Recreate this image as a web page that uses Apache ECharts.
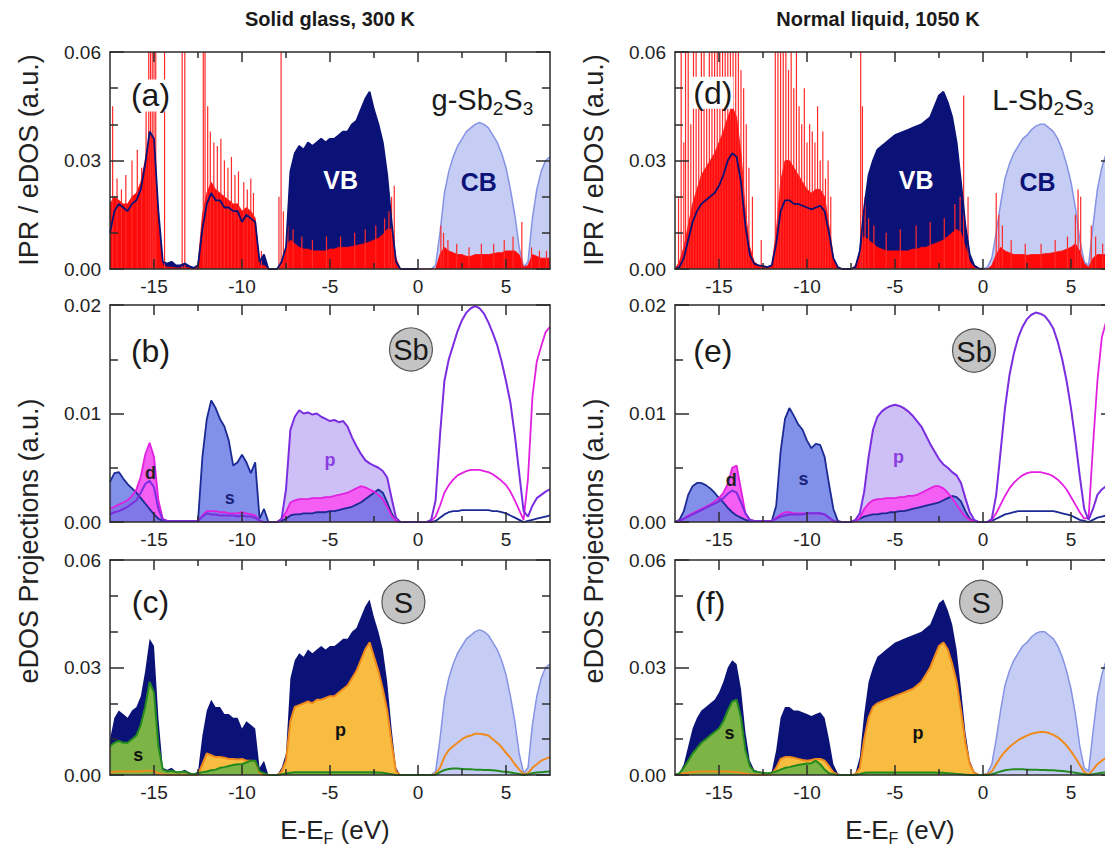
<!DOCTYPE html>
<html><head><meta charset="utf-8">
<script src="https://cdn.jsdelivr.net/npm/echarts@6/dist/echarts.min.js"></script>
<style>html,body{margin:0;padding:0;background:#fff}#c{width:1105px;height:845px}</style>
</head><body><div id="c"></div>
<script>
// Energy grid: E = -17.5 + 0.25*i  (i = 0..100), eV relative to E_F
const E_START = -17.5, E_STEP = 0.25;
const X_MAJOR = [-15, -10, -5, 0, 5];
const X_MINOR = [-12.5, -7.5, -2.5, 2.5];

// ---------- Solid glass, 300 K ----------
const glassTotal = [0.010,0.016,0.018,0.017,0.016,0.018,0.019,0.022,0.029,0.038,
0.036,0.016,0.002,0.0015,0.002,0.001,0.001,0.0015,0.0008,0.0003,
0.001,0.011,0.018,0.021,0.019,0.019,0.017,0.017,0.016,0.016,
0.013,0.015,0.014,0.013,0.002,0.004,0,0,0,0.002,
0.006,0.027,0.032,0.034,0.033,0.035,0.034,0.035,0.036,0.035,
0.036,0.036,0.037,0.038,0.038,0.040,0.041,0.044,0.047,0.049,
0.044,0.040,0.035,0.026,0.013,0.002,0,0,0,0,
0,0,0,0,0.001,0.010,0.021,0.027,0.031,0.034,
0.036,0.038,0.039,0.040,0.0405,0.040,0.039,0.037,0.035,0.032,
0.028,0.022,0.015,0.006,0.0005,0.002,0.014,0.022,0.027,0.030,0.031];
const glassIPR = [0.018,0.020,0.019,0.018,0.018,0.020,0.021,0.024,0.030,0.037,
0.036,0.014,0.001,0.0005,0.0005,0.0003,0.0003,0.0005,0.0003,0,
0.001,0.015,0.021,0.024,0.022,0.021,0.020,0.019,0.018,0.018,
0.016,0.017,0.016,0.014,0.001,0.001,0,0,0,0.002,
0.006,0.008,0.007,0.006,0.0055,0.0055,0.005,0.005,0.005,0.005,
0.0055,0.0055,0.006,0.006,0.006,0.0062,0.0065,0.0068,0.007,0.0075,
0.008,0.0085,0.0095,0.011,0.011,0.003,0,0,0,0,
0,0,0,0,0,0.004,0.006,0.005,0.0045,0.004,
0.004,0.0035,0.0035,0.004,0.004,0.004,0.004,0.0042,0.0045,0.0045,
0.005,0.005,0.005,0.004,0.0005,0.001,0.004,0.0035,0.003,0.003,0.003];
const glassSpikes = [[-17.35,0.045],[-17.1,0.025],[-16.85,0.022],[-16.6,0.026],[-16.25,0.03],[-15.95,0.033],[-15.7,0.028],[-15.45,0.045],[-15.3,0.06],[-15.2,0.06],[-15.1,0.06],[-15.0,0.06],[-14.9,0.06],[-14.4,0.06],[-13.4,0.06],[-13.25,0.06],[-12.2,0.06],[-12.1,0.06],[-11.95,0.045],[-11.8,0.038],[-11.6,0.035],[-11.4,0.034],[-11.2,0.036],[-11.0,0.03],[-10.8,0.028],[-10.6,0.031],[-10.4,0.026],[-10.2,0.027],[-9.9,0.024],[-9.7,0.022],[-9.5,0.025],[-9.35,0.021],[-8.9,0.005],[-7.9,0.02],[-7.78,0.06],[-7.65,0.016],[-7.4,0.012],[-7.1,0.011],[-6.6,0.009],[-6.0,0.008],[-5.2,0.009],[-4.4,0.009],[-3.6,0.01],[-3.0,0.011],[-2.4,0.012],[-1.9,0.014],[-1.65,0.016],[-1.5,0.02],[-1.35,0.023],[1.3,0.012],[1.45,0.01],[1.7,0.008],[2.2,0.007],[2.9,0.006],[3.6,0.007],[4.3,0.007],[4.9,0.008],[5.4,0.009],[5.9,0.013],[6.45,0.006],[6.9,0.005],[7.3,0.005]];
const glassSbS = [0.0037,0.0045,0.0046,0.0040,0.0035,0.0031,0.0027,0.0022,0.0017,0.0012,
0.0007,0.0003,0.0001,0.0001,0.0001,0.0001,0.0001,0.0001,0.0001,0.0001,
0.0001,0.006,0.0095,0.0112,0.0105,0.0095,0.0088,0.0075,0.0052,0.0055,
0.0062,0.0055,0.0045,0.0055,0.0003,0.0012,0,0,0,0.0001,
0.0003,0.0006,0.0007,0.0007,0.0008,0.0008,0.0008,0.0009,0.0009,0.0009,
0.001,0.001,0.0011,0.0012,0.0013,0.0014,0.0016,0.0018,0.0021,0.0024,
0.0027,0.0030,0.0027,0.0018,0.0008,0.0001,0,0,0,0,
0,0,0,0,0.0001,0.0004,0.0007,0.0009,0.001,0.001,
0.0011,0.0011,0.0011,0.0011,0.0011,0.0011,0.0011,0.001,0.001,0.0009,
0.0008,0.0006,0.0004,0.0002,0,0.0001,0.0002,0.0003,0.0004,0.0005,0.0006];
const glassSbP = [0.0007,0.0009,0.001,0.0012,0.0014,0.0017,0.002,0.0027,0.0035,0.0038,
0.0032,0.0012,0.0002,0.0001,0.0001,0.0001,0.0001,0.0001,0.0001,0.0001,
0.0001,0.0005,0.0008,0.0007,0.0007,0.0006,0.0006,0.0006,0.0006,0.0005,
0.0006,0.0005,0.0005,0.0004,0.0001,0,0,0,0,0.0003,
0.003,0.0085,0.0097,0.0103,0.0100,0.0101,0.0099,0.0100,0.0097,0.0095,
0.0093,0.0094,0.0092,0.0093,0.0088,0.0078,0.0070,0.0063,0.0057,0.0054,
0.0052,0.0050,0.0047,0.0041,0.0022,0.0004,0,0,0,0,
0,0,0,0.0002,0.002,0.008,0.013,0.0150,0.0163,0.0176,
0.0186,0.0193,0.0197,0.0199,0.0197,0.0192,0.0184,0.0174,0.0163,0.0148,
0.0130,0.0110,0.0080,0.0045,0.0010,0.0005,0.0015,0.0022,0.0025,0.0028,0.0030];
const glassSbD = [0.0012,0.0014,0.0016,0.0018,0.002,0.0024,0.003,0.0042,0.0062,0.0073,
0.0060,0.0020,0.0003,0.0001,0.0001,0.0001,0.0001,0.0001,0.0001,0.0001,
0.0001,0.0006,0.001,0.001,0.001,0.0009,0.0009,0.0008,0.0008,0.0008,
0.0009,0.0008,0.0007,0.0006,0.0001,0,0,0,0,0.0003,
0.0009,0.0018,0.0020,0.0021,0.0021,0.0021,0.0022,0.0022,0.0022,0.0023,
0.0023,0.0024,0.0025,0.0026,0.0027,0.0029,0.0031,0.0033,0.0032,0.0030,
0.0028,0.0025,0.0021,0.0014,0.0006,0.0001,0,0,0,0,
0,0,0,0.0001,0.0005,0.0015,0.0027,0.0034,0.0039,0.0043,
0.0045,0.0047,0.0048,0.0048,0.0048,0.0047,0.0046,0.0044,0.0041,0.0038,
0.0034,0.0028,0.0020,0.0011,0.0002,0.0040,0.0115,0.0148,0.0162,0.0175,0.0180];
const glassSp = [0.0008,0.0009,0.001,0.001,0.001,0.001,0.001,0.001,0.0012,0.0012,
0.001,0.0005,0.0002,0.0001,0.0001,0.0001,0.0001,0.0001,0.0001,0.0001,
0.0001,0.003,0.006,0.0055,0.005,0.005,0.0048,0.0045,0.0045,0.0043,
0.0045,0.004,0.004,0.0038,0.0005,0,0,0,0,0.001,
0.004,0.015,0.019,0.0195,0.020,0.0205,0.020,0.021,0.021,0.0215,
0.022,0.022,0.023,0.024,0.025,0.027,0.029,0.032,0.035,0.037,
0.033,0.029,0.024,0.018,0.009,0.001,0,0,0,0,
0,0,0,0,0.0003,0.002,0.005,0.007,0.008,0.009,
0.010,0.0107,0.011,0.0115,0.0115,0.0113,0.011,0.010,0.009,0.0078,
0.0062,0.0048,0.003,0.0015,0.0002,0.0005,0.002,0.003,0.004,0.0045,0.005];
const glassSs = [0.008,0.009,0.0095,0.009,0.009,0.010,0.011,0.014,0.019,0.026,
0.023,0.008,0.0015,0.001,0.0012,0.0008,0.0008,0.001,0.0004,0.0002,
0.0005,0.0008,0.001,0.0013,0.0015,0.002,0.0022,0.0025,0.0028,0.003,
0.003,0.0035,0.004,0.004,0.001,0.0005,0,0,0,0.0002,
0.0004,0.0006,0.0008,0.0008,0.0008,0.0008,0.0008,0.0008,0.0008,0.0008,
0.0008,0.0008,0.0008,0.0008,0.0008,0.0008,0.0008,0.0008,0.0008,0.0008,
0.0008,0.0007,0.0006,0.0004,0.0002,0,0,0,0,0,
0,0,0,0,0.0001,0.0008,0.0014,0.0017,0.0018,0.0018,
0.0017,0.0016,0.0016,0.0015,0.0015,0.0014,0.0014,0.0013,0.0012,0.001,
0.0009,0.0007,0.0005,0.0003,0,0.0002,0.0005,0.0007,0.0008,0.0009,0.001];

// ---------- Normal liquid, 1050 K ----------
const liquidTotal = [0,0.0005,0.003,0.008,0.013,0.016,0.018,0.019,0.020,0.021,
0.023,0.026,0.030,0.032,0.031,0.024,0.012,0.004,0.0015,0.001,
0.0008,0.0005,0.001,0.007,0.016,0.019,0.019,0.018,0.018,0.0175,
0.017,0.0165,0.017,0.0175,0.016,0.010,0.003,0.0005,0,0,
0,0.0005,0.005,0.017,0.026,0.030,0.033,0.034,0.035,0.036,
0.037,0.0375,0.038,0.0385,0.039,0.0395,0.040,0.041,0.042,0.045,
0.048,0.049,0.046,0.042,0.035,0.024,0.012,0.004,0.001,0.0002,
0,0.0005,0.003,0.010,0.018,0.025,0.029,0.032,0.034,0.036,
0.037,0.0385,0.0395,0.040,0.040,0.039,0.038,0.036,0.033,0.029,
0.024,0.017,0.008,0.002,0.001,0.012,0.022,0.028,0.032,0.034,0.035];
const liquidIPR = [0,0.002,0.006,0.012,0.018,0.022,0.026,0.028,0.030,0.032,
0.035,0.038,0.042,0.045,0.042,0.032,0.016,0.006,0.002,0.001,
0.001,0.0005,0.001,0.010,0.024,0.030,0.030,0.028,0.026,0.024,
0.022,0.021,0.022,0.022,0.020,0.012,0.003,0.0005,0,0,
0,0.001,0.004,0.009,0.008,0.007,0.006,0.0055,0.005,0.005,
0.005,0.005,0.005,0.005,0.0055,0.0055,0.006,0.006,0.0065,0.007,
0.0075,0.008,0.009,0.010,0.011,0.010,0.006,0.002,0.0005,0,
0,0,0.001,0.004,0.006,0.005,0.0045,0.004,0.004,0.004,
0.0038,0.004,0.004,0.004,0.0042,0.0043,0.0045,0.0048,0.005,0.0055,
0.006,0.007,0.005,0.0015,0.0005,0.003,0.004,0.004,0.004,0.004,0.004];
const liquidSpikes = [[-17.3,0.02],[-17.15,0.06],[-17.0,0.035],[-16.9,0.06],[-16.75,0.06],[-16.6,0.04],[-16.45,0.06],[-16.3,0.06],[-16.15,0.05],[-16.0,0.06],[-15.85,0.06],[-15.7,0.045],[-15.55,0.06],[-15.4,0.06],[-15.25,0.06],[-15.1,0.06],[-14.95,0.06],[-14.8,0.06],[-14.65,0.06],[-14.5,0.06],[-14.35,0.06],[-14.2,0.06],[-14.05,0.06],[-13.9,0.06],[-13.75,0.055],[-13.6,0.05],[-13.45,0.04],[-13.3,0.028],[-13.1,0.02],[-12.6,0.008],[-11.8,0.06],[-11.65,0.06],[-11.5,0.06],[-11.35,0.06],[-11.2,0.06],[-11.05,0.055],[-10.9,0.06],[-10.75,0.05],[-10.6,0.06],[-10.45,0.045],[-10.3,0.04],[-10.15,0.05],[-10.0,0.035],[-9.85,0.04],[-9.7,0.038],[-9.55,0.035],[-9.4,0.045],[-9.25,0.03],[-9.1,0.038],[-8.95,0.025],[-8.8,0.03],[-8.65,0.02],[-6.95,0.06],[-6.85,0.045],[-6.7,0.02],[-6.5,0.014],[-6.2,0.012],[-5.5,0.01],[-4.7,0.011],[-3.8,0.012],[-3.0,0.013],[-2.2,0.014],[-1.6,0.018],[-1.3,0.02],[-1.1,0.048],[-0.85,0.02],[0.75,0.021],[0.9,0.015],[1.1,0.012],[1.6,0.008],[2.4,0.007],[3.3,0.007],[4.1,0.008],[4.8,0.009],[5.25,0.015],[5.4,0.022],[5.55,0.02],[6.15,0.012],[6.4,0.009],[6.8,0.007]];
const liquidSbS = [0,0.0002,0.001,0.0025,0.0033,0.0036,0.0036,0.0034,0.0031,0.0027,
0.0022,0.0018,0.0013,0.0009,0.0006,0.0004,0.0002,0.0001,0.0001,0.0001,
0.0001,0.0001,0.0001,0.0015,0.0065,0.0095,0.0105,0.0098,0.0090,0.0085,
0.0075,0.0068,0.0072,0.0071,0.0060,0.0035,0.0012,0.0001,0,0,
0,0.0001,0.0003,0.0005,0.0006,0.0007,0.0007,0.0008,0.0008,0.0009,
0.0009,0.001,0.001,0.0011,0.0012,0.0013,0.0014,0.0015,0.0016,0.0017,
0.0018,0.002,0.0022,0.0024,0.0023,0.0019,0.0010,0.0003,0.0001,0,
0,0,0.0001,0.0003,0.0005,0.0007,0.0008,0.0009,0.001,0.001,
0.001,0.001,0.001,0.001,0.001,0.001,0.001,0.0009,0.0008,0.0007,
0.0006,0.0004,0.0002,0.0001,0,0.0002,0.0004,0.0005,0.0006,0.0006,0.0007];
const liquidSbP = [0,0.0001,0.0003,0.0005,0.0007,0.0009,0.0011,0.0013,0.0015,0.0017,
0.0019,0.0022,0.0026,0.0029,0.0027,0.0018,0.0008,0.0002,0.0001,0.0001,
0.0001,0.0001,0.0001,0.0003,0.0005,0.0006,0.0007,0.0007,0.0007,0.0007,
0.0008,0.0008,0.0008,0.0008,0.0007,0.0004,0.0001,0,0,0,
0,0.0002,0.0008,0.0028,0.0060,0.0085,0.0097,0.0102,0.0105,0.0107,
0.0108,0.0107,0.0105,0.0102,0.0098,0.0093,0.0088,0.0080,0.0072,0.0065,
0.0058,0.0053,0.0050,0.0046,0.0043,0.0036,0.0022,0.0009,0.0002,0,
0,0,0.0003,0.0025,0.0065,0.0105,0.0135,0.0155,0.0170,0.0180,
0.0187,0.0191,0.0193,0.0192,0.0190,0.0185,0.0178,0.0166,0.0150,0.0130,
0.0105,0.0075,0.0042,0.0012,0.0002,0.0012,0.0025,0.0030,0.0033,0.0035,0.0036];
const liquidSbD = [0,0.0001,0.0003,0.0006,0.0008,0.001,0.0012,0.0014,0.0016,0.0019,
0.0022,0.0027,0.0035,0.0050,0.0052,0.0030,0.0008,0.0002,0.0001,0.0001,
0.0001,0.0001,0.0001,0.0004,0.0007,0.0009,0.0009,0.0008,0.0008,0.0008,
0.0008,0.0008,0.0008,0.0008,0.0007,0.0004,0.0001,0,0,0,
0,0.0001,0.0004,0.0012,0.0017,0.0020,0.0021,0.0021,0.0022,0.0022,
0.0022,0.0023,0.0023,0.0024,0.0024,0.0025,0.0027,0.0029,0.0031,0.0033,
0.0033,0.0031,0.0027,0.0022,0.0016,0.0010,0.0005,0.0002,0.0001,0,
0,0,0.0002,0.0008,0.0016,0.0024,0.0031,0.0036,0.0040,0.0043,
0.0045,0.0046,0.0046,0.0046,0.0045,0.0044,0.0042,0.0039,0.0035,0.0030,
0.0023,0.0016,0.0009,0.0003,0.0004,0.0070,0.0130,0.0170,0.0185,0.0190,0.0190];
const liquidSp = [0,0.0002,0.0004,0.0006,0.0008,0.0009,0.001,0.001,0.001,0.001,
0.001,0.001,0.001,0.0009,0.0008,0.0006,0.0004,0.0002,0.0001,0.0001,
0.0001,0.0001,0.0002,0.002,0.0045,0.005,0.005,0.0048,0.0045,0.0042,
0.004,0.0042,0.0045,0.0045,0.004,0.0025,0.0007,0.0001,0,0,
0,0.0002,0.002,0.010,0.016,0.019,0.020,0.0205,0.021,0.0215,
0.022,0.0225,0.023,0.0235,0.024,0.025,0.026,0.028,0.030,0.033,
0.036,0.037,0.035,0.031,0.026,0.018,0.009,0.003,0.0006,0.0001,
0,0.0002,0.001,0.003,0.005,0.0065,0.0078,0.0088,0.0097,0.0104,
0.011,0.0115,0.0118,0.012,0.012,0.0117,0.0112,0.0105,0.0095,0.0082,
0.0066,0.0048,0.0028,0.0008,0.0001,0.0015,0.003,0.004,0.0048,0.0052,0.0055];
const liquidSs = [0,0.0005,0.002,0.004,0.006,0.0075,0.009,0.010,0.011,0.012,
0.013,0.015,0.018,0.0205,0.021,0.016,0.007,0.0025,0.001,0.0008,
0.0006,0.0005,0.0006,0.001,0.0015,0.002,0.0022,0.0025,0.0028,0.003,
0.0032,0.0033,0.004,0.003,0.0015,0.0005,0.0002,0,0,0,
0,0.0001,0.0003,0.0006,0.0007,0.0007,0.0007,0.0007,0.0007,0.0007,
0.0007,0.0007,0.0007,0.0007,0.0007,0.0007,0.0007,0.0007,0.0007,0.0007,
0.0007,0.0006,0.0005,0.0004,0.0003,0.0002,0.0001,0,0,0,
0,0,0.0002,0.0006,0.001,0.0013,0.0015,0.0016,0.0016,0.0016,
0.0015,0.0015,0.0015,0.0014,0.0014,0.0013,0.0013,0.0012,0.0011,0.001,
0.0008,0.0006,0.0004,0.0002,0,0.0002,0.0004,0.0006,0.0007,0.0008,0.0009];

// ---------- styling ----------
const FONT = '"Liberation Sans", Arial, Helvetica, sans-serif';
const AX = '#2b2b2b';
const NAVY = '#0b1277', CB_FILL = '#c6cdf5', CB_LINE = '#8593e4', RED = '#ff0a0a', SPIKE = '#ff2a2a';
const SBS_FILL = '#6b7de4', SBS_LINE = '#1b2a94', SBP_FILL = '#cebff7', SBP_LINE = '#7a2ee0', SBD_FILL = '#f55ef2', SBD_LINE = '#e31fe0';
const SP_FILL = '#f8bc40', SP_LINE = '#f08a1c', SS_FILL = '#7cb545', SS_LINE = '#24891f';

const colLeft = [110, 675], rowTop = [52, 305, 560], rowH = [217, 217, 215];

function energy(i) { return E_START + E_STEP * i; }
function pts(arr, lo, hi) {
  lo = lo === undefined ? -99 : lo; hi = hi === undefined ? 99 : hi;
  const out = [];
  arr.forEach((v, i) => { const e = energy(i); if (e >= lo - 1e-9 && e <= hi + 1e-9) out.push([e, v]); });
  return out;
}
function xi(g) { return 4 * g; }
function yi(g) { return 2 * g; }
let zc = 2;
function fill(g, data, color, opacity) {
  return { type: 'line', xAxisIndex: xi(g), yAxisIndex: yi(g), data, symbol: 'none', showSymbol: false,
    lineStyle: { width: 0, color }, areaStyle: { color, opacity: opacity === undefined ? 1 : opacity },
    silent: true, animation: false, z: zc++ };
}
function line(g, data, color, width) {
  return { type: 'line', xAxisIndex: xi(g), yAxisIndex: yi(g), data, symbol: 'none', showSymbol: false,
    lineStyle: { width, color }, silent: true, animation: false, z: zc++ };
}
function bars(g, data, color) {
  return { type: 'bar', xAxisIndex: xi(g), yAxisIndex: yi(g), data, barWidth: 1.2,
    itemStyle: { color }, silent: true, animation: false, z: zc++ };
}
function panelIPR(g, total, ipr, spikes) {
  return [
    fill(g, pts(total, -17.5, 0), NAVY),
    fill(g, pts(total, 0, 7.5), CB_FILL),
    line(g, pts(total, 0, 7.5), CB_LINE, 1.5),
    Object.assign(fill(g, pts(ipr), RED), { lineStyle: { width: 0.8, color: RED } }),
    bars(g, spikes, SPIKE),
    line(g, pts(total, -17.5, 0), NAVY, 1.8)
  ];
}
function panelSb(g, s, p, d) {
  return [
    fill(g, pts(p, -17.5, 0), SBP_FILL),
    fill(g, pts(d, -17.5, 0), SBD_FILL),
    fill(g, pts(s, -17.5, 0), SBS_FILL, 0.85),
    line(g, pts(s), SBS_LINE, 1.8),
    line(g, pts(d), SBD_LINE, 1.8),
    line(g, pts(p), SBP_LINE, 2)
  ];
}
function panelS(g, total, sp, ss) {
  return [
    fill(g, pts(total, -17.5, 0), NAVY),
    fill(g, pts(total, 0, 7.5), CB_FILL),
    line(g, pts(total, 0, 7.5), CB_LINE, 1.5),
    fill(g, pts(sp, -17.5, 0), SP_FILL),
    fill(g, pts(ss, -17.5, 0), SS_FILL),
    line(g, pts(sp), SP_LINE, 2),
    line(g, pts(ss), SS_LINE, 2)
  ];
}

const grids = [], xAxes = [], yAxes = [];
for (let g = 0; g < 6; g++) {
  const col = g < 3 ? 0 : 1, row = g % 3;
  grids.push({ left: colLeft[col], top: rowTop[row], width: 440, height: rowH[row], containLabel: false, outerBoundsMode: 'none' });
  const tickStyle = { color: AX, width: 1.5 };
  const mkX = (pos, major, labels, showLine) => ({
    type: 'value', gridIndex: g, position: pos, min: -17.5, max: 7.5, z: 50,
    axisLine: { show: showLine, onZero: false, lineStyle: { color: AX, width: 1.5 } },
    axisTick: { show: true, inside: true, length: major ? 10 : 6, customValues: major ? X_MAJOR : X_MINOR, lineStyle: tickStyle },
    axisLabel: { show: labels, customValues: X_MAJOR, fontSize: 19, color: '#222', fontFamily: FONT, margin: 8 },
    splitLine: { show: false }, minorTick: { show: false }
  });
  xAxes.push(mkX('bottom', true, true, true), mkX('bottom', false, false, false), mkX('top', true, false, true), mkX('top', false, false, false));
  const small = row === 1;
  const mkY = (pos, labels) => ({
    type: 'value', gridIndex: g, position: pos, min: 0, max: small ? 0.02 : 0.06, interval: small ? 0.01 : 0.03, z: 50,
    axisLine: { show: true, onZero: false, lineStyle: { color: AX, width: 1.5 } },
    axisTick: { show: true, inside: true, length: 14, lineStyle: tickStyle },
    minorTick: { show: true, splitNumber: small ? 2 : 3, length: 8, lineStyle: tickStyle },
    axisLabel: { show: labels, formatter: v => v.toFixed(2), fontSize: 19, color: '#222', fontFamily: FONT, margin: 9 },
    splitLine: { show: false }, minorSplitLine: { show: false }
  });
  yAxes.push(mkY('left', true), mkY('right', false));
}

const series = [].concat(
  panelIPR(0, glassTotal, glassIPR, glassSpikes),
  panelSb(1, glassSbS, glassSbP, glassSbD),
  panelS(2, glassTotal, glassSp, glassSs),
  panelIPR(3, liquidTotal, liquidIPR, liquidSpikes),
  panelSb(4, liquidSbS, liquidSbP, liquidSbD),
  panelS(5, liquidTotal, liquidSp, liquidSs)
);

const chart = echarts.init(document.getElementById('c'), null, { renderer: 'svg', width: 1105, height: 845 });
chart.setOption({ backgroundColor: '#fff', animation: false, grid: grids, xAxis: xAxes, yAxis: yAxes, series });

function P(g, x, y) { return chart.convertToPixel({ xAxisIndex: xi(g), yAxisIndex: yi(g) }, [x, y]); }
const gr = [];
function txt(x, y, text, font, fill, extra) {
  gr.push(Object.assign({ type: 'text', x, y, z: 100, style: Object.assign({ text, font, fill, align: 'center', verticalAlign: 'middle' }, extra || {}) }));
}
// titles
txt(330, 19, 'Solid glass, 300 K', 'bold 20px ' + FONT, '#1a1a1a');
txt(878, 19, 'Normal liquid, 1050 K', 'bold 20px ' + FONT, '#1a1a1a');
// y-axis titles
[29, 594].forEach(x => {
  gr.push({ type: 'text', x, y: 160, rotation: Math.PI / 2, z: 100, style: { text: 'IPR / eDOS (a.u.)', font: '27px ' + FONT, fill: '#222', align: 'center', verticalAlign: 'middle' } });
  gr.push({ type: 'text', x, y: 541, rotation: Math.PI / 2, z: 100, style: { text: 'eDOS Projections (a.u.)', font: '27px ' + FONT, fill: '#222', align: 'center', verticalAlign: 'middle' } });
});
// x-axis titles
[335, 900].forEach(x => {
  gr.push({ type: 'text', x, y: 830, z: 100, style: { text: 'E-E{s|F} (eV)', font: '26px ' + FONT, fill: '#222', align: 'center', verticalAlign: 'middle', lineHeight: 32,
    rich: { s: { fontSize: 16, fontFamily: FONT, lineHeight: 15, verticalAlign: 'bottom', fill: '#222' } } } });
});
// panel letters
const panelLetters = [[0,'(a)',-15.2,0.048],[1,'(b)',-15.2,0.0158],[2,'(c)',-15.2,0.0483],[3,'(d)',-15.35,0.0487],[4,'(e)',-15.35,0.0158],[5,'(f)',-15.5,0.048]];
panelLetters.forEach(([g, t, x, y]) => { const p = P(g, x, y); txt(p[0], p[1], t, '32px ' + FONT, '#1a1a1a', { backgroundColor: '#fff', padding: [0, 1] }); });
// formula labels
[[0, 'g-Sb{s|2}S{s|3}', 6.55], [3, 'L-Sb{s|2}S{s|3}', 6.3]].forEach(([g, t, x]) => {
  const p = P(g, x, 0.0467);
  gr.push({ type: 'text', x: p[0], y: p[1], z: 100, style: { text: t, font: '29px ' + FONT, fill: '#1a1a1a', align: 'right', verticalAlign: 'middle', lineHeight: 35,
    rich: { s: { fontSize: 19, fontFamily: FONT, lineHeight: 17, verticalAlign: 'bottom', fill: '#1a1a1a' } } } });
});
// band labels
[[0,'VB',-4.4,0.0245,'#fff'],[0,'CB',3.45,0.024,NAVY],[3,'VB',-3.8,0.0245,'#fff'],[3,'CB',3.1,0.024,NAVY]].forEach(([g,t,x,y,c]) => {
  const p = P(g, x, y); txt(p[0], p[1], t, 'bold 25px ' + FONT, c);
});
// orbital labels
[[1,'d',-15.2,0.0045,'#222'],[1,'s',-10.7,0.0022,'#1a237e'],[1,'p',-5.0,0.0057,'#8a3de0'],
 [2,'s',-15.9,0.0056,'#111'],[2,'p',-4.4,0.0125,'#111'],
 [4,'d',-14.3,0.0039,'#222'],[4,'s',-10.2,0.0040,'#1a237e'],[4,'p',-4.8,0.0060,'#8a3de0'],
 [5,'s',-14.4,0.0117,'#111'],[5,'p',-3.7,0.0117,'#111']].forEach(([g,t,x,y,c]) => {
  const p = P(g, x, y); txt(p[0], p[1], t, 'bold 18px ' + FONT, c);
});
// element circles
[[1,'Sb',-0.4,0.0159],[2,'S',-0.83,0.0483],[4,'Sb',-0.51,0.0158],[5,'S',-0.11,0.0483]].forEach(([g,t,x,y]) => {
  const p = P(g, x, y);
  gr.push({ type: 'circle', z: 100, shape: { cx: p[0], cy: p[1], r: 21.5 }, style: { fill: '#c4c4c4', stroke: '#555', lineWidth: 1.2 } });
  txt(p[0], p[1] + 1, t, '29px ' + FONT, '#1a1a1a');
});
chart.setOption({ graphic: { elements: gr } });
</script>
</body></html>
